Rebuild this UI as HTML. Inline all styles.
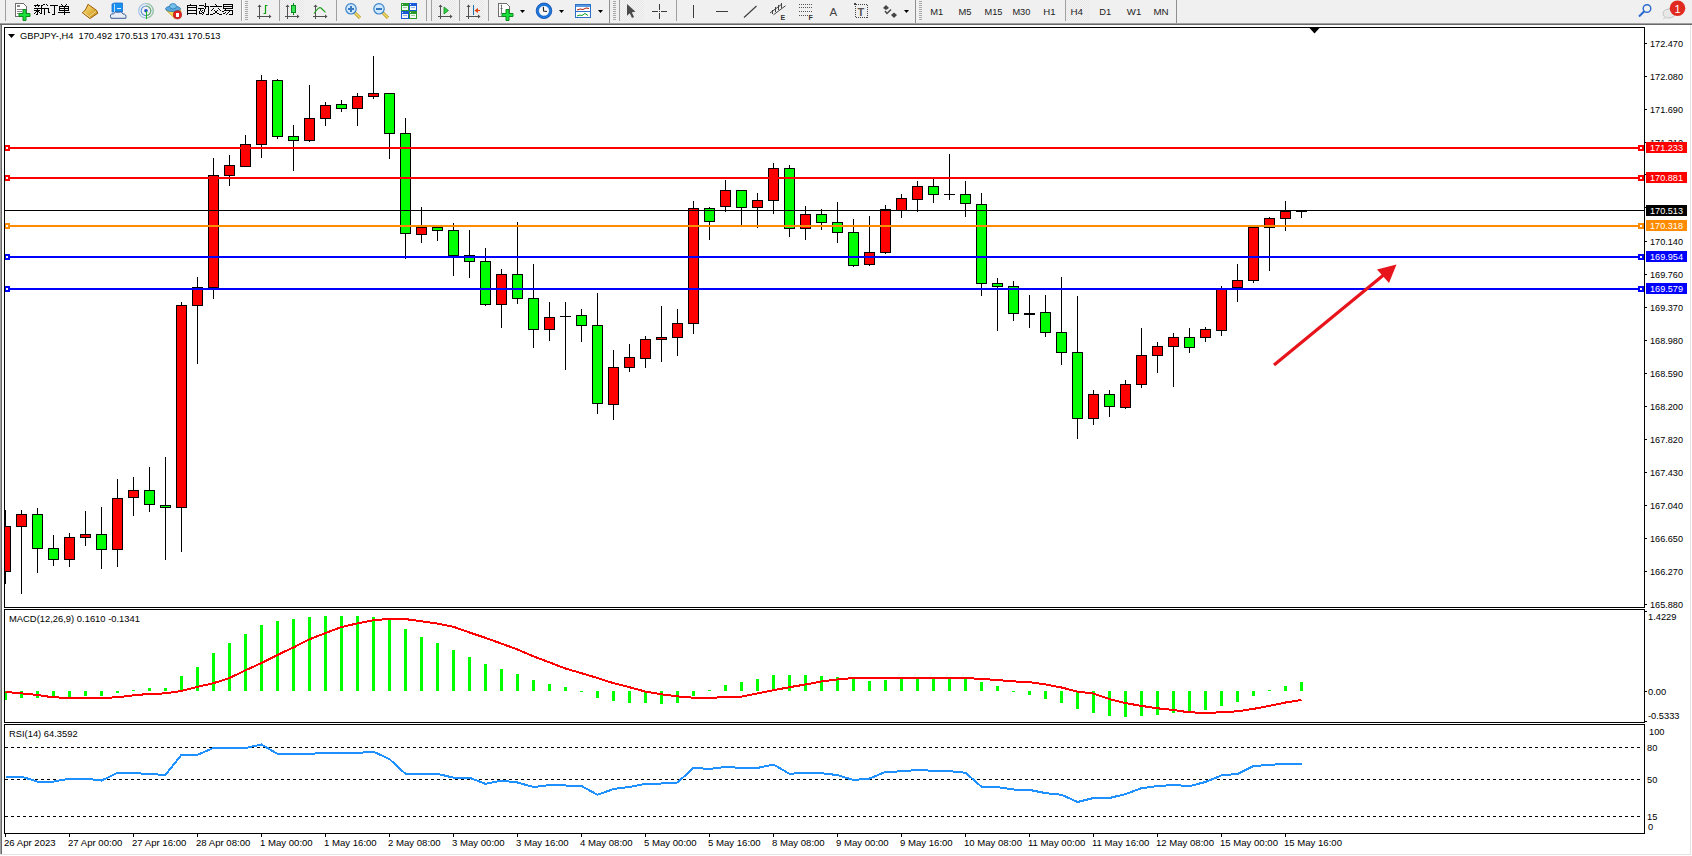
<!DOCTYPE html>
<html><head><meta charset="utf-8"><style>
html,body{margin:0;padding:0;}
body{width:1692px;height:856px;position:relative;overflow:hidden;background:#fff;font-family:"Liberation Sans",sans-serif;}
.ax{font-family:"Liberation Sans",sans-serif;font-size:9.8px;fill:#000;}
.tm{font-family:"Liberation Sans",sans-serif;font-size:9.4px;fill:#000;}
.tt{font-family:"Liberation Sans",sans-serif;font-size:9.3px;fill:#000;}
.tf{font-family:"Liberation Sans",sans-serif;font-size:9.6px;fill:#1e1e1e;}
.tb{position:absolute;font-family:"Liberation Sans",sans-serif;font-size:10px;color:#1a1a1a;white-space:nowrap;}
</style></head><body>
<svg width="1692" height="856" viewBox="0 0 1692 856" style="position:absolute;left:0;top:0" shape-rendering="crispEdges"><rect x="0" y="0" width="1692" height="23" fill="#f0f0f0"/><rect x="0" y="23" width="1692" height="1" fill="#a0a0a0"/><rect x="0" y="24" width="1692" height="1" fill="#696969"/><rect x="0" y="25" width="1" height="829" fill="#a0a0a0"/><rect x="1" y="25" width="1" height="829" fill="#696969"/><rect x="2" y="25" width="1688" height="829" fill="#ffffff"/><rect x="1690" y="25" width="1" height="830" fill="#e3e3e3"/><rect x="0" y="854" width="1691" height="1" fill="#e3e3e3"/><defs><clipPath id="cm"><rect x="5" y="28" width="1639" height="579"/></clipPath><clipPath id="cd"><rect x="5" y="610" width="1639" height="112"/></clipPath><clipPath id="cr"><rect x="5" y="725" width="1639" height="108"/></clipPath></defs><g clip-path="url(#cm)"><rect x="5" y="510" width="1" height="74" fill="#000"/><rect x="0" y="526" width="11" height="46" fill="#000"/><rect x="1" y="527" width="9" height="44" fill="#ff0000"/><rect x="21" y="510" width="1" height="84" fill="#000"/><rect x="16" y="514" width="11" height="13" fill="#000"/><rect x="17" y="515" width="9" height="11" fill="#ff0000"/><rect x="37" y="508" width="1" height="65" fill="#000"/><rect x="32" y="514" width="11" height="35" fill="#000"/><rect x="33" y="515" width="9" height="33" fill="#00ff00"/><rect x="53" y="535" width="1" height="31" fill="#000"/><rect x="48" y="548" width="11" height="12" fill="#000"/><rect x="49" y="549" width="9" height="10" fill="#00ff00"/><rect x="69" y="533" width="1" height="34" fill="#000"/><rect x="64" y="537" width="11" height="23" fill="#000"/><rect x="65" y="538" width="9" height="21" fill="#ff0000"/><rect x="85" y="511" width="1" height="35" fill="#000"/><rect x="80" y="534" width="11" height="4" fill="#000"/><rect x="81" y="535" width="9" height="2" fill="#ff0000"/><rect x="101" y="507" width="1" height="62" fill="#000"/><rect x="96" y="534" width="11" height="16" fill="#000"/><rect x="97" y="535" width="9" height="14" fill="#00ff00"/><rect x="117" y="479" width="1" height="88" fill="#000"/><rect x="112" y="498" width="11" height="52" fill="#000"/><rect x="113" y="499" width="9" height="50" fill="#ff0000"/><rect x="133" y="477" width="1" height="39" fill="#000"/><rect x="128" y="490" width="11" height="8" fill="#000"/><rect x="129" y="491" width="9" height="6" fill="#ff0000"/><rect x="149" y="467" width="1" height="45" fill="#000"/><rect x="144" y="490" width="11" height="15" fill="#000"/><rect x="145" y="491" width="9" height="13" fill="#00ff00"/><rect x="165" y="457" width="1" height="103" fill="#000"/><rect x="160" y="505" width="11" height="3" fill="#000"/><rect x="161" y="506" width="9" height="1" fill="#00ff00"/><rect x="181" y="302" width="1" height="250" fill="#000"/><rect x="176" y="305" width="11" height="203" fill="#000"/><rect x="177" y="306" width="9" height="201" fill="#ff0000"/><rect x="197" y="277" width="1" height="87" fill="#000"/><rect x="192" y="287" width="11" height="19" fill="#000"/><rect x="193" y="288" width="9" height="17" fill="#ff0000"/><rect x="213" y="158" width="1" height="141" fill="#000"/><rect x="208" y="175" width="11" height="113" fill="#000"/><rect x="209" y="176" width="9" height="111" fill="#ff0000"/><rect x="229" y="155" width="1" height="31" fill="#000"/><rect x="224" y="165" width="11" height="11" fill="#000"/><rect x="225" y="166" width="9" height="9" fill="#ff0000"/><rect x="245" y="135" width="1" height="32" fill="#000"/><rect x="240" y="144" width="11" height="23" fill="#000"/><rect x="241" y="145" width="9" height="21" fill="#ff0000"/><rect x="261" y="75" width="1" height="83" fill="#000"/><rect x="256" y="80" width="11" height="65" fill="#000"/><rect x="257" y="81" width="9" height="63" fill="#ff0000"/><rect x="277" y="79" width="1" height="60" fill="#000"/><rect x="272" y="80" width="11" height="57" fill="#000"/><rect x="273" y="81" width="9" height="55" fill="#00ff00"/><rect x="293" y="125" width="1" height="46" fill="#000"/><rect x="288" y="136" width="11" height="5" fill="#000"/><rect x="289" y="137" width="9" height="3" fill="#00ff00"/><rect x="309" y="85" width="1" height="57" fill="#000"/><rect x="304" y="118" width="11" height="23" fill="#000"/><rect x="305" y="119" width="9" height="21" fill="#ff0000"/><rect x="325" y="102" width="1" height="24" fill="#000"/><rect x="320" y="105" width="11" height="14" fill="#000"/><rect x="321" y="106" width="9" height="12" fill="#ff0000"/><rect x="341" y="100" width="1" height="12" fill="#000"/><rect x="336" y="104" width="11" height="5" fill="#000"/><rect x="337" y="105" width="9" height="3" fill="#00ff00"/><rect x="357" y="93" width="1" height="33" fill="#000"/><rect x="352" y="96" width="11" height="13" fill="#000"/><rect x="353" y="97" width="9" height="11" fill="#ff0000"/><rect x="373" y="56" width="1" height="43" fill="#000"/><rect x="368" y="93" width="11" height="4" fill="#000"/><rect x="369" y="94" width="9" height="2" fill="#ff0000"/><rect x="389" y="93" width="1" height="66" fill="#000"/><rect x="384" y="93" width="11" height="41" fill="#000"/><rect x="385" y="94" width="9" height="39" fill="#00ff00"/><rect x="405" y="118" width="1" height="141" fill="#000"/><rect x="400" y="133" width="11" height="101" fill="#000"/><rect x="401" y="134" width="9" height="99" fill="#00ff00"/><rect x="421" y="207" width="1" height="36" fill="#000"/><rect x="416" y="227" width="11" height="8" fill="#000"/><rect x="417" y="228" width="9" height="6" fill="#ff0000"/><rect x="437" y="227" width="1" height="14" fill="#000"/><rect x="432" y="227" width="11" height="4" fill="#000"/><rect x="433" y="228" width="9" height="2" fill="#00ff00"/><rect x="453" y="223" width="1" height="53" fill="#000"/><rect x="448" y="230" width="11" height="26" fill="#000"/><rect x="449" y="231" width="9" height="24" fill="#00ff00"/><rect x="469" y="230" width="1" height="48" fill="#000"/><rect x="464" y="255" width="11" height="7" fill="#000"/><rect x="465" y="256" width="9" height="5" fill="#00ff00"/><rect x="485" y="248" width="1" height="58" fill="#000"/><rect x="480" y="261" width="11" height="44" fill="#000"/><rect x="481" y="262" width="9" height="42" fill="#00ff00"/><rect x="501" y="269" width="1" height="59" fill="#000"/><rect x="496" y="274" width="11" height="31" fill="#000"/><rect x="497" y="275" width="9" height="29" fill="#ff0000"/><rect x="517" y="222" width="1" height="82" fill="#000"/><rect x="512" y="274" width="11" height="25" fill="#000"/><rect x="513" y="275" width="9" height="23" fill="#00ff00"/><rect x="533" y="264" width="1" height="84" fill="#000"/><rect x="528" y="298" width="11" height="32" fill="#000"/><rect x="529" y="299" width="9" height="30" fill="#00ff00"/><rect x="549" y="302" width="1" height="39" fill="#000"/><rect x="544" y="317" width="11" height="13" fill="#000"/><rect x="545" y="318" width="9" height="11" fill="#ff0000"/><rect x="565" y="302" width="1" height="68" fill="#000"/><rect x="560" y="316" width="11" height="1" fill="#000"/><rect x="581" y="309" width="1" height="33" fill="#000"/><rect x="576" y="315" width="11" height="11" fill="#000"/><rect x="577" y="316" width="9" height="9" fill="#00ff00"/><rect x="597" y="293" width="1" height="121" fill="#000"/><rect x="592" y="325" width="11" height="79" fill="#000"/><rect x="593" y="326" width="9" height="77" fill="#00ff00"/><rect x="613" y="350" width="1" height="70" fill="#000"/><rect x="608" y="367" width="11" height="38" fill="#000"/><rect x="609" y="368" width="9" height="36" fill="#ff0000"/><rect x="629" y="344" width="1" height="28" fill="#000"/><rect x="624" y="357" width="11" height="11" fill="#000"/><rect x="625" y="358" width="9" height="9" fill="#ff0000"/><rect x="645" y="336" width="1" height="32" fill="#000"/><rect x="640" y="339" width="11" height="20" fill="#000"/><rect x="641" y="340" width="9" height="18" fill="#ff0000"/><rect x="661" y="306" width="1" height="56" fill="#000"/><rect x="656" y="337" width="11" height="3" fill="#000"/><rect x="657" y="338" width="9" height="1" fill="#ff0000"/><rect x="677" y="309" width="1" height="47" fill="#000"/><rect x="672" y="323" width="11" height="15" fill="#000"/><rect x="673" y="324" width="9" height="13" fill="#ff0000"/><rect x="693" y="201" width="1" height="133" fill="#000"/><rect x="688" y="208" width="11" height="116" fill="#000"/><rect x="689" y="209" width="9" height="114" fill="#ff0000"/><rect x="709" y="207" width="1" height="33" fill="#000"/><rect x="704" y="208" width="11" height="14" fill="#000"/><rect x="705" y="209" width="9" height="12" fill="#00ff00"/><rect x="725" y="180" width="1" height="32" fill="#000"/><rect x="720" y="190" width="11" height="17" fill="#000"/><rect x="721" y="191" width="9" height="15" fill="#ff0000"/><rect x="741" y="190" width="1" height="35" fill="#000"/><rect x="736" y="190" width="11" height="18" fill="#000"/><rect x="737" y="191" width="9" height="16" fill="#00ff00"/><rect x="757" y="193" width="1" height="35" fill="#000"/><rect x="752" y="200" width="11" height="8" fill="#000"/><rect x="753" y="201" width="9" height="6" fill="#ff0000"/><rect x="773" y="163" width="1" height="51" fill="#000"/><rect x="768" y="168" width="11" height="33" fill="#000"/><rect x="769" y="169" width="9" height="31" fill="#ff0000"/><rect x="789" y="165" width="1" height="72" fill="#000"/><rect x="784" y="168" width="11" height="61" fill="#000"/><rect x="785" y="169" width="9" height="59" fill="#00ff00"/><rect x="805" y="206" width="1" height="34" fill="#000"/><rect x="800" y="214" width="11" height="15" fill="#000"/><rect x="801" y="215" width="9" height="13" fill="#ff0000"/><rect x="821" y="209" width="1" height="21" fill="#000"/><rect x="816" y="214" width="11" height="9" fill="#000"/><rect x="817" y="215" width="9" height="7" fill="#00ff00"/><rect x="837" y="202" width="1" height="41" fill="#000"/><rect x="832" y="222" width="11" height="11" fill="#000"/><rect x="833" y="223" width="9" height="9" fill="#00ff00"/><rect x="853" y="219" width="1" height="48" fill="#000"/><rect x="848" y="232" width="11" height="34" fill="#000"/><rect x="849" y="233" width="9" height="32" fill="#00ff00"/><rect x="869" y="216" width="1" height="50" fill="#000"/><rect x="864" y="252" width="11" height="13" fill="#000"/><rect x="865" y="253" width="9" height="11" fill="#ff0000"/><rect x="885" y="205" width="1" height="49" fill="#000"/><rect x="880" y="209" width="11" height="44" fill="#000"/><rect x="881" y="210" width="9" height="42" fill="#ff0000"/><rect x="901" y="194" width="1" height="24" fill="#000"/><rect x="896" y="198" width="11" height="13" fill="#000"/><rect x="897" y="199" width="9" height="11" fill="#ff0000"/><rect x="917" y="181" width="1" height="31" fill="#000"/><rect x="912" y="186" width="11" height="14" fill="#000"/><rect x="913" y="187" width="9" height="12" fill="#ff0000"/><rect x="933" y="179" width="1" height="24" fill="#000"/><rect x="928" y="186" width="11" height="9" fill="#000"/><rect x="929" y="187" width="9" height="7" fill="#00ff00"/><rect x="949" y="154" width="1" height="46" fill="#000"/><rect x="944" y="194" width="11" height="1" fill="#000"/><rect x="965" y="181" width="1" height="36" fill="#000"/><rect x="960" y="194" width="11" height="10" fill="#000"/><rect x="961" y="195" width="9" height="8" fill="#00ff00"/><rect x="981" y="193" width="1" height="103" fill="#000"/><rect x="976" y="204" width="11" height="80" fill="#000"/><rect x="977" y="205" width="9" height="78" fill="#00ff00"/><rect x="997" y="278" width="1" height="53" fill="#000"/><rect x="992" y="283" width="11" height="4" fill="#000"/><rect x="993" y="284" width="9" height="2" fill="#00ff00"/><rect x="1013" y="281" width="1" height="40" fill="#000"/><rect x="1008" y="286" width="11" height="28" fill="#000"/><rect x="1009" y="287" width="9" height="26" fill="#00ff00"/><rect x="1029" y="295" width="1" height="33" fill="#000"/><rect x="1024" y="313" width="11" height="2" fill="#000"/><rect x="1045" y="295" width="1" height="42" fill="#000"/><rect x="1040" y="312" width="11" height="21" fill="#000"/><rect x="1041" y="313" width="9" height="19" fill="#00ff00"/><rect x="1061" y="277" width="1" height="88" fill="#000"/><rect x="1056" y="332" width="11" height="21" fill="#000"/><rect x="1057" y="333" width="9" height="19" fill="#00ff00"/><rect x="1077" y="296" width="1" height="143" fill="#000"/><rect x="1072" y="352" width="11" height="67" fill="#000"/><rect x="1073" y="353" width="9" height="65" fill="#00ff00"/><rect x="1093" y="390" width="1" height="35" fill="#000"/><rect x="1088" y="394" width="11" height="25" fill="#000"/><rect x="1089" y="395" width="9" height="23" fill="#ff0000"/><rect x="1109" y="390" width="1" height="27" fill="#000"/><rect x="1104" y="394" width="11" height="13" fill="#000"/><rect x="1105" y="395" width="9" height="11" fill="#00ff00"/><rect x="1125" y="380" width="1" height="29" fill="#000"/><rect x="1120" y="384" width="11" height="24" fill="#000"/><rect x="1121" y="385" width="9" height="22" fill="#ff0000"/><rect x="1141" y="328" width="1" height="60" fill="#000"/><rect x="1136" y="355" width="11" height="30" fill="#000"/><rect x="1137" y="356" width="9" height="28" fill="#ff0000"/><rect x="1157" y="342" width="1" height="31" fill="#000"/><rect x="1152" y="346" width="11" height="10" fill="#000"/><rect x="1153" y="347" width="9" height="8" fill="#ff0000"/><rect x="1173" y="333" width="1" height="54" fill="#000"/><rect x="1168" y="337" width="11" height="10" fill="#000"/><rect x="1169" y="338" width="9" height="8" fill="#ff0000"/><rect x="1189" y="328" width="1" height="25" fill="#000"/><rect x="1184" y="337" width="11" height="11" fill="#000"/><rect x="1185" y="338" width="9" height="9" fill="#00ff00"/><rect x="1205" y="327" width="1" height="15" fill="#000"/><rect x="1200" y="329" width="11" height="9" fill="#000"/><rect x="1201" y="330" width="9" height="7" fill="#ff0000"/><rect x="1221" y="286" width="1" height="50" fill="#000"/><rect x="1216" y="289" width="11" height="42" fill="#000"/><rect x="1217" y="290" width="9" height="40" fill="#ff0000"/><rect x="1237" y="264" width="1" height="38" fill="#000"/><rect x="1232" y="280" width="11" height="8" fill="#000"/><rect x="1233" y="281" width="9" height="6" fill="#ff0000"/><rect x="1253" y="227" width="1" height="56" fill="#000"/><rect x="1248" y="227" width="11" height="54" fill="#000"/><rect x="1249" y="228" width="9" height="52" fill="#ff0000"/><rect x="1269" y="217" width="1" height="54" fill="#000"/><rect x="1264" y="218" width="11" height="10" fill="#000"/><rect x="1265" y="219" width="9" height="8" fill="#ff0000"/><rect x="1285" y="201" width="1" height="30" fill="#000"/><rect x="1280" y="211" width="11" height="8" fill="#000"/><rect x="1281" y="212" width="9" height="6" fill="#ff0000"/><rect x="1301" y="211" width="1" height="7" fill="#000"/><rect x="1296" y="211" width="11" height="1" fill="#000"/><rect x="5" y="210" width="1639" height="1" fill="#000"/><rect x="5" y="147" width="1639" height="2" fill="#ff0000"/><rect x="5" y="177" width="1639" height="2" fill="#ff0000"/><rect x="5" y="225" width="1639" height="2" fill="#ff8c00"/><rect x="5" y="256" width="1639" height="2" fill="#0000ff"/><rect x="5" y="288" width="1639" height="2" fill="#0000ff"/><rect x="4" y="145" width="6" height="6" fill="#ff0000"/><rect x="6" y="147" width="2" height="2" fill="#fff"/><rect x="1638" y="145" width="6" height="6" fill="#ff0000"/><rect x="1640" y="147" width="2" height="2" fill="#fff"/><rect x="4" y="175" width="6" height="6" fill="#ff0000"/><rect x="6" y="177" width="2" height="2" fill="#fff"/><rect x="1638" y="175" width="6" height="6" fill="#ff0000"/><rect x="1640" y="177" width="2" height="2" fill="#fff"/><rect x="4" y="223" width="6" height="6" fill="#ff8c00"/><rect x="6" y="225" width="2" height="2" fill="#fff"/><rect x="1638" y="223" width="6" height="6" fill="#ff8c00"/><rect x="1640" y="225" width="2" height="2" fill="#fff"/><rect x="4" y="254" width="6" height="6" fill="#0000ff"/><rect x="6" y="256" width="2" height="2" fill="#fff"/><rect x="1638" y="254" width="6" height="6" fill="#0000ff"/><rect x="1640" y="256" width="2" height="2" fill="#fff"/><rect x="4" y="286" width="6" height="6" fill="#0000ff"/><rect x="6" y="288" width="2" height="2" fill="#fff"/><rect x="1638" y="286" width="6" height="6" fill="#0000ff"/><rect x="1640" y="288" width="2" height="2" fill="#fff"/></g><g fill="#e8141c" stroke="none"><line x1="1274" y1="365" x2="1386" y2="273" stroke="#e8141c" stroke-width="3.2" stroke-linecap="butt" shape-rendering="geometricPrecision"/><polygon points="1396.5,264.5 1377,269.5 1389,283" shape-rendering="geometricPrecision"/></g><polygon points="1309.5,28 1319.5,28 1314.5,33.5" fill="#000" shape-rendering="geometricPrecision"/><rect x="4" y="27" width="1641" height="1" fill="#000"/><rect x="4" y="607" width="1641" height="1" fill="#000"/><rect x="4" y="27" width="1" height="581" fill="#000"/><rect x="1644" y="27" width="1" height="581" fill="#000"/><rect x="4" y="609" width="1641" height="1" fill="#000"/><rect x="4" y="722" width="1641" height="1" fill="#000"/><rect x="4" y="609" width="1" height="114" fill="#000"/><rect x="1644" y="609" width="1" height="114" fill="#000"/><rect x="4" y="724" width="1641" height="1" fill="#000"/><rect x="4" y="833" width="1641" height="1" fill="#000"/><rect x="4" y="724" width="1" height="110" fill="#000"/><rect x="1644" y="724" width="1" height="110" fill="#000"/><rect x="1645" y="43" width="2" height="1" fill="#000"/><rect x="1645" y="76" width="2" height="1" fill="#000"/><rect x="1645" y="109" width="2" height="1" fill="#000"/><rect x="1645" y="142" width="2" height="1" fill="#000"/><rect x="1645" y="174" width="2" height="1" fill="#000"/><rect x="1645" y="207" width="2" height="1" fill="#000"/><rect x="1645" y="241" width="2" height="1" fill="#000"/><rect x="1645" y="274" width="2" height="1" fill="#000"/><rect x="1645" y="307" width="2" height="1" fill="#000"/><rect x="1645" y="340" width="2" height="1" fill="#000"/><rect x="1645" y="373" width="2" height="1" fill="#000"/><rect x="1645" y="406" width="2" height="1" fill="#000"/><rect x="1645" y="439" width="2" height="1" fill="#000"/><rect x="1645" y="472" width="2" height="1" fill="#000"/><rect x="1645" y="505" width="2" height="1" fill="#000"/><rect x="1645" y="538" width="2" height="1" fill="#000"/><rect x="1645" y="571" width="2" height="1" fill="#000"/><rect x="1645" y="604" width="2" height="1" fill="#000"/><g clip-path="url(#cd)"><rect x="4" y="691" width="3" height="9" fill="#00ff00"/><rect x="20" y="691" width="3" height="7" fill="#00ff00"/><rect x="36" y="691" width="3" height="7" fill="#00ff00"/><rect x="52" y="691" width="3" height="6" fill="#00ff00"/><rect x="68" y="691" width="3" height="6" fill="#00ff00"/><rect x="84" y="691" width="3" height="5" fill="#00ff00"/><rect x="100" y="691" width="3" height="5" fill="#00ff00"/><rect x="116" y="691" width="3" height="2" fill="#00ff00"/><rect x="132" y="690" width="3" height="1" fill="#00ff00"/><rect x="148" y="688" width="3" height="3" fill="#00ff00"/><rect x="164" y="688" width="3" height="3" fill="#00ff00"/><rect x="180" y="676" width="3" height="15" fill="#00ff00"/><rect x="196" y="667" width="3" height="24" fill="#00ff00"/><rect x="212" y="653" width="3" height="38" fill="#00ff00"/><rect x="228" y="643" width="3" height="48" fill="#00ff00"/><rect x="244" y="634" width="3" height="57" fill="#00ff00"/><rect x="260" y="625" width="3" height="66" fill="#00ff00"/><rect x="276" y="621" width="3" height="70" fill="#00ff00"/><rect x="292" y="619" width="3" height="72" fill="#00ff00"/><rect x="308" y="617" width="3" height="74" fill="#00ff00"/><rect x="324" y="616" width="3" height="75" fill="#00ff00"/><rect x="340" y="616" width="3" height="75" fill="#00ff00"/><rect x="356" y="616" width="3" height="75" fill="#00ff00"/><rect x="372" y="617" width="3" height="74" fill="#00ff00"/><rect x="388" y="619" width="3" height="72" fill="#00ff00"/><rect x="404" y="629" width="3" height="62" fill="#00ff00"/><rect x="420" y="637" width="3" height="54" fill="#00ff00"/><rect x="436" y="643" width="3" height="48" fill="#00ff00"/><rect x="452" y="650" width="3" height="41" fill="#00ff00"/><rect x="468" y="657" width="3" height="34" fill="#00ff00"/><rect x="484" y="664" width="3" height="27" fill="#00ff00"/><rect x="500" y="669" width="3" height="22" fill="#00ff00"/><rect x="516" y="674" width="3" height="17" fill="#00ff00"/><rect x="532" y="680" width="3" height="11" fill="#00ff00"/><rect x="548" y="684" width="3" height="7" fill="#00ff00"/><rect x="564" y="687" width="3" height="4" fill="#00ff00"/><rect x="580" y="691" width="3" height="1" fill="#00ff00"/><rect x="596" y="691" width="3" height="7" fill="#00ff00"/><rect x="612" y="691" width="3" height="10" fill="#00ff00"/><rect x="628" y="691" width="3" height="12" fill="#00ff00"/><rect x="644" y="691" width="3" height="12" fill="#00ff00"/><rect x="660" y="691" width="3" height="13" fill="#00ff00"/><rect x="676" y="691" width="3" height="12" fill="#00ff00"/><rect x="692" y="691" width="3" height="5" fill="#00ff00"/><rect x="708" y="690" width="3" height="1" fill="#00ff00"/><rect x="724" y="685" width="3" height="6" fill="#00ff00"/><rect x="740" y="682" width="3" height="9" fill="#00ff00"/><rect x="756" y="679" width="3" height="12" fill="#00ff00"/><rect x="772" y="675" width="3" height="16" fill="#00ff00"/><rect x="788" y="675" width="3" height="16" fill="#00ff00"/><rect x="804" y="675" width="3" height="16" fill="#00ff00"/><rect x="820" y="676" width="3" height="15" fill="#00ff00"/><rect x="836" y="677" width="3" height="14" fill="#00ff00"/><rect x="852" y="678" width="3" height="13" fill="#00ff00"/><rect x="868" y="681" width="3" height="10" fill="#00ff00"/><rect x="884" y="680" width="3" height="11" fill="#00ff00"/><rect x="900" y="679" width="3" height="12" fill="#00ff00"/><rect x="916" y="679" width="3" height="12" fill="#00ff00"/><rect x="932" y="679" width="3" height="12" fill="#00ff00"/><rect x="948" y="679" width="3" height="12" fill="#00ff00"/><rect x="964" y="677" width="3" height="14" fill="#00ff00"/><rect x="980" y="682" width="3" height="9" fill="#00ff00"/><rect x="996" y="686" width="3" height="5" fill="#00ff00"/><rect x="1012" y="691" width="3" height="1" fill="#00ff00"/><rect x="1028" y="691" width="3" height="4" fill="#00ff00"/><rect x="1044" y="691" width="3" height="8" fill="#00ff00"/><rect x="1060" y="691" width="3" height="12" fill="#00ff00"/><rect x="1076" y="691" width="3" height="18" fill="#00ff00"/><rect x="1092" y="691" width="3" height="22" fill="#00ff00"/><rect x="1108" y="691" width="3" height="25" fill="#00ff00"/><rect x="1124" y="691" width="3" height="26" fill="#00ff00"/><rect x="1140" y="691" width="3" height="25" fill="#00ff00"/><rect x="1156" y="691" width="3" height="24" fill="#00ff00"/><rect x="1172" y="691" width="3" height="22" fill="#00ff00"/><rect x="1188" y="691" width="3" height="21" fill="#00ff00"/><rect x="1204" y="691" width="3" height="19" fill="#00ff00"/><rect x="1220" y="691" width="3" height="15" fill="#00ff00"/><rect x="1236" y="691" width="3" height="11" fill="#00ff00"/><rect x="1252" y="691" width="3" height="5" fill="#00ff00"/><rect x="1268" y="690" width="3" height="1" fill="#00ff00"/><rect x="1284" y="686" width="3" height="5" fill="#00ff00"/><rect x="1300" y="682" width="3" height="9" fill="#00ff00"/><polyline points="5.5,691.9 21.5,693.4 37.5,695.0 53.5,697.4 69.5,697.7 85.5,697.7 101.5,697.7 117.5,697.4 133.5,695.3 149.5,693.9 165.5,693.4 181.5,690.9 197.5,686.8 213.5,683.2 229.5,678.0 245.5,670.3 261.5,663.0 277.5,654.9 293.5,647.4 309.5,639.3 325.5,633.1 341.5,627.0 357.5,623.4 373.5,620.2 389.5,618.9 405.5,619.1 421.5,621.3 437.5,623.6 453.5,626.8 469.5,632.5 485.5,637.9 501.5,643.6 517.5,649.5 533.5,656.3 549.5,662.4 565.5,668.5 581.5,673.2 597.5,678.0 613.5,683.2 629.5,687.2 645.5,691.6 661.5,694.3 677.5,696.4 693.5,697.7 709.5,697.7 725.5,697.3 741.5,696.6 757.5,693.4 773.5,690.2 789.5,687.2 805.5,684.5 821.5,681.4 837.5,679.4 853.5,678.0 869.5,678.0 885.5,678.0 901.5,678.0 917.5,678.0 933.5,678.0 949.5,678.0 965.5,678.0 981.5,679.0 997.5,680.0 1013.5,681.4 1029.5,682.1 1045.5,684.4 1061.5,687.5 1077.5,691.6 1093.5,693.6 1109.5,699.1 1125.5,703.1 1141.5,705.9 1157.5,708.3 1173.5,710.0 1189.5,712.4 1205.5,712.7 1221.5,712.4 1237.5,711.3 1253.5,708.9 1269.5,705.9 1285.5,702.5 1301.5,700.0" fill="none" stroke="#ff0000" stroke-width="2" shape-rendering="crispEdges"/></g><rect x="1645" y="611" width="2" height="1" fill="#000"/><rect x="1645" y="691" width="2" height="1" fill="#000"/><rect x="1645" y="721" width="2" height="1" fill="#000"/><g clip-path="url(#cr)"><line x1="5" y1="747.5" x2="1642" y2="747.5" stroke="#000" stroke-width="1" stroke-dasharray="3,3" shape-rendering="crispEdges"/><line x1="5" y1="779.5" x2="1642" y2="779.5" stroke="#000" stroke-width="1" stroke-dasharray="3,3" shape-rendering="crispEdges"/><line x1="5" y1="816.5" x2="1642" y2="816.5" stroke="#000" stroke-width="1" stroke-dasharray="3,3" shape-rendering="crispEdges"/><polyline points="5.5,776.7 21.5,776.7 37.5,781.6 53.5,781.6 69.5,778.6 85.5,778.6 101.5,780.6 117.5,772.8 133.5,772.8 149.5,774.3 165.5,774.7 181.5,754.8 197.5,754.8 213.5,748.0 229.5,748.0 245.5,748.0 261.5,744.5 277.5,753.9 293.5,753.9 309.5,753.9 325.5,752.8 341.5,752.9 357.5,752.9 373.5,751.7 389.5,759.1 405.5,773.8 421.5,773.8 437.5,773.8 453.5,777.7 469.5,777.7 485.5,783.9 501.5,780.6 517.5,782.5 533.5,787.0 549.5,785.1 565.5,785.5 581.5,786.0 597.5,794.8 613.5,789.0 629.5,787.0 645.5,783.8 661.5,783.5 677.5,782.5 693.5,767.9 709.5,768.9 725.5,766.9 741.5,767.9 757.5,767.9 773.5,764.6 789.5,773.8 805.5,772.8 821.5,773.2 837.5,775.1 853.5,780.0 869.5,778.6 885.5,771.8 901.5,771.4 917.5,769.9 933.5,770.8 949.5,771.2 965.5,772.8 981.5,786.7 997.5,787.1 1013.5,789.5 1029.5,789.9 1045.5,793.1 1061.5,794.8 1077.5,802.0 1093.5,798.0 1109.5,798.0 1125.5,794.1 1141.5,788.2 1157.5,786.1 1173.5,785.0 1189.5,786.1 1205.5,782.0 1221.5,775.4 1237.5,773.9 1253.5,766.1 1269.5,764.8 1285.5,763.9 1301.5,763.9" fill="none" stroke="#1e90ff" stroke-width="2" stroke-linejoin="round"/></g><rect x="5" y="834" width="1" height="3" fill="#000"/><rect x="69" y="834" width="1" height="3" fill="#000"/><rect x="133" y="834" width="1" height="3" fill="#000"/><rect x="197" y="834" width="1" height="3" fill="#000"/><rect x="261" y="834" width="1" height="3" fill="#000"/><rect x="325" y="834" width="1" height="3" fill="#000"/><rect x="389" y="834" width="1" height="3" fill="#000"/><rect x="453" y="834" width="1" height="3" fill="#000"/><rect x="517" y="834" width="1" height="3" fill="#000"/><rect x="581" y="834" width="1" height="3" fill="#000"/><rect x="645" y="834" width="1" height="3" fill="#000"/><rect x="709" y="834" width="1" height="3" fill="#000"/><rect x="773" y="834" width="1" height="3" fill="#000"/><rect x="837" y="834" width="1" height="3" fill="#000"/><rect x="901" y="834" width="1" height="3" fill="#000"/><rect x="965" y="834" width="1" height="3" fill="#000"/><rect x="1029" y="834" width="1" height="3" fill="#000"/><rect x="1093" y="834" width="1" height="3" fill="#000"/><rect x="1157" y="834" width="1" height="3" fill="#000"/><rect x="1221" y="834" width="1" height="3" fill="#000"/><rect x="1285" y="834" width="1" height="3" fill="#000"/><text x="1650" y="47" class="ax" textLength="33.00" lengthAdjust="spacingAndGlyphs" >172.470</text><text x="1650" y="80" class="ax" textLength="33.00" lengthAdjust="spacingAndGlyphs" >172.080</text><text x="1650" y="113" class="ax" textLength="33.00" lengthAdjust="spacingAndGlyphs" >171.690</text><text x="1650" y="146" class="ax" textLength="33.00" lengthAdjust="spacingAndGlyphs" >171.310</text><text x="1650" y="178" class="ax" textLength="33.00" lengthAdjust="spacingAndGlyphs" >170.930</text><text x="1650" y="211" class="ax" textLength="33.00" lengthAdjust="spacingAndGlyphs" >170.540</text><text x="1650" y="245" class="ax" textLength="33.00" lengthAdjust="spacingAndGlyphs" >170.140</text><text x="1650" y="278" class="ax" textLength="33.00" lengthAdjust="spacingAndGlyphs" >169.760</text><text x="1650" y="311" class="ax" textLength="33.00" lengthAdjust="spacingAndGlyphs" >169.370</text><text x="1650" y="344" class="ax" textLength="33.00" lengthAdjust="spacingAndGlyphs" >168.980</text><text x="1650" y="377" class="ax" textLength="33.00" lengthAdjust="spacingAndGlyphs" >168.590</text><text x="1650" y="410" class="ax" textLength="33.00" lengthAdjust="spacingAndGlyphs" >168.200</text><text x="1650" y="443" class="ax" textLength="33.00" lengthAdjust="spacingAndGlyphs" >167.820</text><text x="1650" y="476" class="ax" textLength="33.00" lengthAdjust="spacingAndGlyphs" >167.430</text><text x="1650" y="509" class="ax" textLength="33.00" lengthAdjust="spacingAndGlyphs" >167.040</text><text x="1650" y="542" class="ax" textLength="33.00" lengthAdjust="spacingAndGlyphs" >166.650</text><text x="1650" y="575" class="ax" textLength="33.00" lengthAdjust="spacingAndGlyphs" >166.270</text><text x="1650" y="608" class="ax" textLength="33.00" lengthAdjust="spacingAndGlyphs" >165.880</text><rect x="1646" y="142" width="41" height="11" fill="#ff0000"/><text x="1650" y="151" class="ax" textLength="33.00" lengthAdjust="spacingAndGlyphs" style="fill:#fff">171.233</text><rect x="1646" y="172" width="41" height="11" fill="#ff0000"/><text x="1650" y="181" class="ax" textLength="33.00" lengthAdjust="spacingAndGlyphs" style="fill:#fff">170.881</text><rect x="1646" y="205" width="41" height="11" fill="#000000"/><text x="1650" y="214" class="ax" textLength="33.00" lengthAdjust="spacingAndGlyphs" style="fill:#fff">170.513</text><rect x="1646" y="220" width="41" height="11" fill="#ff8c00"/><text x="1650" y="229" class="ax" textLength="33.00" lengthAdjust="spacingAndGlyphs" style="fill:#fff">170.318</text><rect x="1646" y="251" width="41" height="11" fill="#0000ff"/><text x="1650" y="260" class="ax" textLength="33.00" lengthAdjust="spacingAndGlyphs" style="fill:#fff">169.954</text><rect x="1646" y="283" width="41" height="11" fill="#0000ff"/><text x="1650" y="292" class="ax" textLength="33.00" lengthAdjust="spacingAndGlyphs" style="fill:#fff">169.579</text><text x="1648" y="620" class="ax" textLength="28.44" lengthAdjust="spacingAndGlyphs" >1.4229</text><text x="1648" y="695" class="ax" textLength="18.10" lengthAdjust="spacingAndGlyphs" >0.00</text><text x="1648" y="719" class="ax" textLength="31.54" lengthAdjust="spacingAndGlyphs" >-0.5333</text><text x="1649" y="735" class="ax" textLength="15.52" lengthAdjust="spacingAndGlyphs" >100</text><text x="1647" y="751" class="ax" textLength="10.34" lengthAdjust="spacingAndGlyphs" >80</text><text x="1647" y="783" class="ax" textLength="10.34" lengthAdjust="spacingAndGlyphs" >50</text><text x="1647" y="820" class="ax" textLength="10.34" lengthAdjust="spacingAndGlyphs" >15</text><text x="1648" y="830" class="ax" textLength="5.17" lengthAdjust="spacingAndGlyphs" >0</text><text x="4" y="846" class="ax" textLength="51.64" lengthAdjust="spacingAndGlyphs" >26 Apr 2023</text><text x="68" y="846" class="ax" textLength="54.30" lengthAdjust="spacingAndGlyphs" >27 Apr 00:00</text><text x="132" y="846" class="ax" textLength="54.30" lengthAdjust="spacingAndGlyphs" >27 Apr 16:00</text><text x="196" y="846" class="ax" textLength="54.30" lengthAdjust="spacingAndGlyphs" >28 Apr 08:00</text><text x="260" y="846" class="ax" textLength="52.69" lengthAdjust="spacingAndGlyphs" >1 May 00:00</text><text x="324" y="846" class="ax" textLength="52.69" lengthAdjust="spacingAndGlyphs" >1 May 16:00</text><text x="388" y="846" class="ax" textLength="52.69" lengthAdjust="spacingAndGlyphs" >2 May 08:00</text><text x="452" y="846" class="ax" textLength="52.69" lengthAdjust="spacingAndGlyphs" >3 May 00:00</text><text x="516" y="846" class="ax" textLength="52.69" lengthAdjust="spacingAndGlyphs" >3 May 16:00</text><text x="580" y="846" class="ax" textLength="52.69" lengthAdjust="spacingAndGlyphs" >4 May 08:00</text><text x="644" y="846" class="ax" textLength="52.69" lengthAdjust="spacingAndGlyphs" >5 May 00:00</text><text x="708" y="846" class="ax" textLength="52.69" lengthAdjust="spacingAndGlyphs" >5 May 16:00</text><text x="772" y="846" class="ax" textLength="52.69" lengthAdjust="spacingAndGlyphs" >8 May 08:00</text><text x="836" y="846" class="ax" textLength="52.69" lengthAdjust="spacingAndGlyphs" >9 May 00:00</text><text x="900" y="846" class="ax" textLength="52.69" lengthAdjust="spacingAndGlyphs" >9 May 16:00</text><text x="964" y="846" class="ax" textLength="58.01" lengthAdjust="spacingAndGlyphs" >10 May 08:00</text><text x="1028" y="846" class="ax" textLength="57.30" lengthAdjust="spacingAndGlyphs" >11 May 00:00</text><text x="1092" y="846" class="ax" textLength="57.30" lengthAdjust="spacingAndGlyphs" >11 May 16:00</text><text x="1156" y="846" class="ax" textLength="58.01" lengthAdjust="spacingAndGlyphs" >12 May 08:00</text><text x="1220" y="846" class="ax" textLength="58.01" lengthAdjust="spacingAndGlyphs" >15 May 00:00</text><text x="1284" y="846" class="ax" textLength="58.01" lengthAdjust="spacingAndGlyphs" >15 May 16:00</text><polygon points="8,34 15,34 11.5,38" fill="#000" shape-rendering="geometricPrecision"/><text x="20" y="39" class="ax" textLength="200.50" lengthAdjust="spacingAndGlyphs" >GBPJPY-,H4&#160;&#160;170.492 170.513 170.431 170.513</text><text x="9" y="622" class="ax" textLength="131.00" lengthAdjust="spacingAndGlyphs" >MACD(12,26,9) 0.1610 -0.1341</text><text x="9" y="737" class="ax" textLength="68.60" lengthAdjust="spacingAndGlyphs" >RSI(14) 64.3592</text></svg>
<svg width="1692" height="23" viewBox="0 0 1692 23" style="position:absolute;left:0;top:0" shape-rendering="crispEdges"><defs><pattern id="chk" width="2" height="2" patternUnits="userSpaceOnUse"><rect width="2" height="2" fill="#f4f4f4"/><rect width="1" height="1" fill="#e6e6e6"/><rect x="1" y="1" width="1" height="1" fill="#e6e6e6"/></pattern><linearGradient id="gold" x1="0" y1="0" x2="1" y2="1"><stop offset="0" stop-color="#ffe680"/><stop offset="1" stop-color="#c88a10"/></linearGradient><linearGradient id="blu" x1="0" y1="0" x2="0" y2="1"><stop offset="0" stop-color="#7cc4ff"/><stop offset="1" stop-color="#1f6fd8"/></linearGradient><radialGradient id="clk" cx="0.4" cy="0.35" r="0.7"><stop offset="0.55" stop-color="#ffffff"/><stop offset="0.75" stop-color="#3a8de0"/><stop offset="1" stop-color="#0b4aa8"/></radialGradient></defs><rect x="5" y="0" width="1" height="21" fill="#a0a0a0"/><path d="M15.5,3.5 h8 l3,3 v10 h-11 z" fill="#fff" stroke="#6e6e6e" stroke-width="1"/><rect x="17" y="5" width="3" height="2" fill="#888"/><rect x="17" y="9" width="6" height="1" fill="#888"/><rect x="17" y="11" width="5" height="1" fill="#888"/><rect x="17" y="13" width="4" height="1" fill="#888"/><path d="M23,9.5 h3 v4 h4 v3 h-4 v4 h-3 v-4 h-4 v-3 h4 z" fill="#19e03a" stroke="#0a8a1a" stroke-width="1" shape-rendering="geometricPrecision"/><rect x="37" y="4" width="1" height="1" fill="#000"/><rect x="34" y="5" width="6" height="1" fill="#000"/><rect x="35" y="6" width="1" height="1" fill="#000"/><rect x="38" y="6" width="1" height="1" fill="#000"/><rect x="34" y="8" width="7" height="1" fill="#000"/><rect x="34" y="10" width="6" height="1" fill="#000"/><rect x="37" y="8" width="1" height="7" fill="#000"/><rect x="36" y="11" width="1" height="1" fill="#000"/><rect x="35" y="12" width="1" height="1" fill="#000"/><rect x="34" y="13" width="1" height="1" fill="#000"/><rect x="38" y="11" width="1" height="1" fill="#000"/><rect x="39" y="12" width="1" height="1" fill="#000"/><rect x="36" y="14" width="1" height="1" fill="#000"/><rect x="43" y="4" width="2" height="1" fill="#000"/><rect x="41" y="5" width="2" height="1" fill="#000"/><rect x="41" y="5" width="1" height="9" fill="#000"/><rect x="40" y="13" width="1" height="1" fill="#000"/><rect x="41" y="8" width="5" height="1" fill="#000"/><rect x="44" y="8" width="1" height="7" fill="#000"/><rect x="46" y="4" width="1" height="1" fill="#000"/><rect x="47" y="5" width="1" height="1" fill="#000"/><rect x="46" y="8" width="2" height="1" fill="#000"/><rect x="48" y="8" width="1" height="5" fill="#000"/><rect x="49" y="12" width="1" height="1" fill="#000"/><rect x="50" y="5" width="8" height="1" fill="#000"/><rect x="54" y="5" width="1" height="10" fill="#000"/><rect x="52" y="14" width="2" height="1" fill="#000"/><rect x="61" y="4" width="1" height="1" fill="#000"/><rect x="62" y="5" width="1" height="1" fill="#000"/><rect x="66" y="4" width="1" height="1" fill="#000"/><rect x="65" y="5" width="1" height="1" fill="#000"/><rect x="59" y="6" width="10" height="1" fill="#000"/><rect x="59" y="8" width="10" height="1" fill="#000"/><rect x="59" y="10" width="10" height="1" fill="#000"/><rect x="59" y="6" width="1" height="5" fill="#000"/><rect x="68" y="6" width="1" height="5" fill="#000"/><rect x="64" y="6" width="1" height="9" fill="#000"/><rect x="58" y="12" width="12" height="1" fill="#000"/><path d="M88,4.3 L96.5,10.3 L97.8,13.2 L90,18.6 L82.2,12.6 L84.5,11 Q86.5,8.5 88,4.3 Z" fill="url(#gold)" stroke="#9a5e08" stroke-width="1" shape-rendering="geometricPrecision"/><path d="M83.5,12.3 L90.5,17.6 M95.8,11.5 L89.8,16" fill="none" stroke="#f0dca0" stroke-width="0.9" shape-rendering="geometricPrecision"/><path d="M112,4 L114.5,3 H122.5 V12 H112 Z" fill="#1a90f0" stroke="#1a70d0" stroke-width="0.8" shape-rendering="geometricPrecision"/><path d="M114.5,4 V12" stroke="#d8f0ff" stroke-width="0.8" shape-rendering="geometricPrecision"/><rect x="117" y="7.5" width="4" height="1" fill="#e0f0ff"/><path d="M111,18.3 Q109,13.5 113.5,13.8 Q115,11 118.5,12.3 Q121.5,10.5 123,14 Q126.8,13.8 125.8,18.3 Z" fill="#e8ecf4" stroke="#3a5a98" stroke-width="1" shape-rendering="geometricPrecision"/><circle cx="146" cy="10.8" r="7.3" fill="none" stroke="#9cc0e8" stroke-width="1.1" shape-rendering="geometricPrecision"/><path d="M146,3.5 A7.3,7.3 0 0 1 146,18.1" fill="none" stroke="#9cc89c" stroke-width="1.1" shape-rendering="geometricPrecision"/><circle cx="146" cy="10.8" r="4.8" fill="none" stroke="#5a90d8" stroke-width="1.1" shape-rendering="geometricPrecision"/><path d="M146,6 A4.8,4.8 0 0 1 146,15.6" fill="none" stroke="#70b070" stroke-width="1.1" shape-rendering="geometricPrecision"/><circle cx="146" cy="10.8" r="1.8" fill="#1a50c8" shape-rendering="geometricPrecision"/><rect x="146" y="11" width="1.3" height="8" fill="#20b020"/><path d="M166,10 L175,18.5 L181,12 L180,9 Z" fill="#f5d850" stroke="#c8a020" stroke-width="0.8" shape-rendering="geometricPrecision"/><ellipse cx="173" cy="8.8" rx="7.5" ry="2.8" fill="#5aa8dc" stroke="#2a78b8" stroke-width="0.8" shape-rendering="geometricPrecision"/><ellipse cx="173" cy="6.3" rx="3.5" ry="2.7" fill="#78c0ec" stroke="#2a78b8" stroke-width="0.8" shape-rendering="geometricPrecision"/><circle cx="177.5" cy="14.8" r="4.1" fill="#e02020" stroke="#a01010" stroke-width="0.6" shape-rendering="geometricPrecision"/><rect x="176" y="13" width="3" height="3.5" fill="#fff"/><rect x="190" y="4" width="1" height="1" fill="#000"/><rect x="187" y="5" width="1" height="10" fill="#000"/><rect x="196" y="5" width="1" height="10" fill="#000"/><rect x="187" y="5" width="10" height="1" fill="#000"/><rect x="187" y="7" width="10" height="1" fill="#000"/><rect x="187" y="10" width="10" height="1" fill="#000"/><rect x="187" y="13" width="10" height="1" fill="#000"/><rect x="199" y="5" width="5" height="1" fill="#000"/><rect x="198" y="8" width="6" height="1" fill="#000"/><rect x="200" y="9" width="1" height="2" fill="#000"/><rect x="199" y="11" width="1" height="2" fill="#000"/><rect x="199" y="13" width="3" height="1" fill="#000"/><rect x="202" y="10" width="1" height="1" fill="#000"/><rect x="201" y="11" width="1" height="1" fill="#000"/><rect x="202" y="12" width="1" height="1" fill="#000"/><rect x="203" y="13" width="1" height="1" fill="#000"/><rect x="204" y="6" width="5" height="1" fill="#000"/><rect x="208" y="6" width="1" height="9" fill="#000"/><rect x="206" y="14" width="2" height="1" fill="#000"/><rect x="205" y="3" width="1" height="6" fill="#000"/><rect x="204" y="9" width="1" height="3" fill="#000"/><rect x="203" y="12" width="1" height="2" fill="#000"/><rect x="202" y="14" width="1" height="1" fill="#000"/><rect x="215" y="4" width="1" height="1" fill="#000"/><rect x="216" y="5" width="1" height="1" fill="#000"/><rect x="210" y="6" width="12" height="1" fill="#000"/><rect x="213" y="8" width="1" height="1" fill="#000"/><rect x="212" y="9" width="1" height="1" fill="#000"/><rect x="211" y="10" width="1" height="1" fill="#000"/><rect x="218" y="8" width="1" height="1" fill="#000"/><rect x="219" y="9" width="1" height="1" fill="#000"/><rect x="220" y="10" width="1" height="1" fill="#000"/><rect x="217" y="10" width="1" height="1" fill="#000"/><rect x="216" y="11" width="1" height="1" fill="#000"/><rect x="215" y="12" width="1" height="1" fill="#000"/><rect x="213" y="13" width="2" height="1" fill="#000"/><rect x="210" y="14" width="3" height="1" fill="#000"/><rect x="214" y="10" width="1" height="1" fill="#000"/><rect x="215" y="11" width="1" height="1" fill="#000"/><rect x="216" y="12" width="1" height="1" fill="#000"/><rect x="217" y="13" width="2" height="1" fill="#000"/><rect x="219" y="14" width="3" height="1" fill="#000"/><rect x="223" y="4" width="10" height="1" fill="#000"/><rect x="223" y="6" width="10" height="1" fill="#000"/><rect x="223" y="8" width="10" height="1" fill="#000"/><rect x="223" y="4" width="1" height="5" fill="#000"/><rect x="232" y="4" width="1" height="5" fill="#000"/><rect x="225" y="9" width="1" height="1" fill="#000"/><rect x="224" y="10" width="1" height="1" fill="#000"/><rect x="222" y="11" width="2" height="1" fill="#000"/><rect x="224" y="10" width="9" height="1" fill="#000"/><rect x="232" y="10" width="1" height="5" fill="#000"/><rect x="229" y="14" width="3" height="1" fill="#000"/><rect x="225" y="12" width="1" height="1" fill="#000"/><rect x="224" y="13" width="1" height="1" fill="#000"/><rect x="223" y="13" width="1" height="1" fill="#000"/><rect x="229" y="11" width="1" height="1" fill="#000"/><rect x="228" y="12" width="1" height="1" fill="#000"/><rect x="227" y="13" width="1" height="1" fill="#000"/><rect x="226" y="14" width="1" height="1" fill="#000"/><rect x="241" y="0" width="1" height="21" fill="#a0a0a0"/><rect x="242" y="0" width="1" height="21" fill="#ffffff"/><rect x="245" y="1" width="3" height="1" fill="#a8a8a8"/><rect x="245" y="3" width="3" height="1" fill="#a8a8a8"/><rect x="245" y="5" width="3" height="1" fill="#a8a8a8"/><rect x="245" y="7" width="3" height="1" fill="#a8a8a8"/><rect x="245" y="9" width="3" height="1" fill="#a8a8a8"/><rect x="245" y="11" width="3" height="1" fill="#a8a8a8"/><rect x="245" y="13" width="3" height="1" fill="#a8a8a8"/><rect x="245" y="15" width="3" height="1" fill="#a8a8a8"/><rect x="245" y="17" width="3" height="1" fill="#a8a8a8"/><rect x="245" y="19" width="3" height="1" fill="#a8a8a8"/><rect x="259" y="5" width="1" height="14" fill="#505050"/><polygon points="257.5,7 261.5,7 259.5,4.5" fill="#505050" shape-rendering="geometricPrecision"/><rect x="257" y="16" width="12" height="1" fill="#505050"/><polygon points="269,14.5 269,18.5 271.5,16.5" fill="#505050" shape-rendering="geometricPrecision"/><path d="M263.5,13.5 h2 v-8 h2" fill="none" stroke="#10a010" stroke-width="1.2" shape-rendering="geometricPrecision"/><rect x="279" y="0" width="1" height="21" fill="#a0a0a0"/><rect x="280" y="0" width="24" height="21" fill="url(#chk)"/><rect x="287" y="5" width="1" height="14" fill="#505050"/><polygon points="285.5,7 289.5,7 287.5,4.5" fill="#505050" shape-rendering="geometricPrecision"/><rect x="285" y="16" width="12" height="1" fill="#505050"/><polygon points="297,14.5 297,18.5 299.5,16.5" fill="#505050" shape-rendering="geometricPrecision"/><rect x="293" y="3" width="1" height="12" fill="#0a8a1a"/><rect x="291.5" y="5.5" width="4" height="7" fill="#3ae05a" stroke="#0a8a1a" stroke-width="1"/><rect x="315" y="5" width="1" height="14" fill="#505050"/><polygon points="313.5,7 317.5,7 315.5,4.5" fill="#505050" shape-rendering="geometricPrecision"/><rect x="313" y="16" width="12" height="1" fill="#505050"/><polygon points="325,14.5 325,18.5 327.5,16.5" fill="#505050" shape-rendering="geometricPrecision"/><path d="M314,13.5 Q319,6 321,8 Q323,10 325.5,12.3" fill="none" stroke="#20a020" stroke-width="1.1" shape-rendering="geometricPrecision"/><rect x="336" y="0" width="1" height="21" fill="#a0a0a0"/><line x1="354.5" y1="12.5" x2="360" y2="17.8" stroke="#b89818" stroke-width="3" shape-rendering="geometricPrecision"/><line x1="354.5" y1="12.5" x2="360" y2="17.8" stroke="#f0dc70" stroke-width="1.5" shape-rendering="geometricPrecision"/><circle cx="351" cy="8.8" r="5.2" fill="#cfeaff" stroke="#3a80c8" stroke-width="1.2" shape-rendering="geometricPrecision"/><rect x="348" y="8" width="6" height="2" fill="#3a7ac0"/><rect x="350" y="6" width="2" height="6" fill="#3a7ac0"/><line x1="382.5" y1="12.5" x2="388" y2="17.8" stroke="#b89818" stroke-width="3" shape-rendering="geometricPrecision"/><line x1="382.5" y1="12.5" x2="388" y2="17.8" stroke="#f0dc70" stroke-width="1.5" shape-rendering="geometricPrecision"/><circle cx="379" cy="8.8" r="5.2" fill="#cfeaff" stroke="#3a80c8" stroke-width="1.2" shape-rendering="geometricPrecision"/><rect x="376" y="8" width="6" height="2" fill="#3a7ac0"/><rect x="401" y="3" width="8" height="8" fill="#2a9a2a"/><rect x="402" y="6" width="6" height="4" fill="#f4f8f4"/><rect x="402" y="4" width="1" height="1" fill="#e0f0e0"/><rect x="403" y="7" width="4" height="1" fill="#2a9a2a" opacity="0.45"/><rect x="409" y="3" width="8" height="8" fill="#1a5ad8"/><rect x="410" y="6" width="6" height="4" fill="#f4f8f4"/><rect x="410" y="4" width="1" height="1" fill="#e0f0e0"/><rect x="411" y="7" width="4" height="1" fill="#1a5ad8" opacity="0.45"/><rect x="401" y="11" width="8" height="8" fill="#1a5ad8"/><rect x="402" y="14" width="6" height="4" fill="#f4f8f4"/><rect x="402" y="12" width="1" height="1" fill="#e0f0e0"/><rect x="403" y="15" width="4" height="1" fill="#1a5ad8" opacity="0.45"/><rect x="409" y="11" width="8" height="8" fill="#2a9a2a"/><rect x="410" y="14" width="6" height="4" fill="#f4f8f4"/><rect x="410" y="12" width="1" height="1" fill="#e0f0e0"/><rect x="411" y="15" width="4" height="1" fill="#2a9a2a" opacity="0.45"/><rect x="426" y="0" width="1" height="21" fill="#a0a0a0"/><rect x="431" y="0" width="1" height="21" fill="#a0a0a0"/><rect x="432" y="0" width="24" height="21" fill="url(#chk)"/><rect x="440" y="5" width="1" height="14" fill="#505050"/><polygon points="438.5,7 442.5,7 440.5,4.5" fill="#505050" shape-rendering="geometricPrecision"/><rect x="438" y="16" width="12" height="1" fill="#505050"/><polygon points="450,14.5 450,18.5 452.5,16.5" fill="#505050" shape-rendering="geometricPrecision"/><polygon points="444,7 444,14 448.5,10.5" fill="#30d040" stroke="#108a20" stroke-width="0.8" shape-rendering="geometricPrecision"/><rect x="459" y="0" width="1" height="21" fill="#a0a0a0"/><rect x="460" y="0" width="24" height="21" fill="url(#chk)"/><rect x="468" y="5" width="1" height="14" fill="#505050"/><polygon points="466.5,7 470.5,7 468.5,4.5" fill="#505050" shape-rendering="geometricPrecision"/><rect x="466" y="16" width="12" height="1" fill="#505050"/><polygon points="478,14.5 478,18.5 480.5,16.5" fill="#505050" shape-rendering="geometricPrecision"/><rect x="473" y="5" width="1" height="10" fill="#1a70b0"/><polygon points="474.5,10.5 478,8 478,13" fill="#e04010" shape-rendering="geometricPrecision"/><rect x="476" y="10" width="3.5" height="1" fill="#e04010"/><rect x="488" y="0" width="1" height="21" fill="#a0a0a0"/><path d="M498.5,3.5 h8 l3,3 v10 h-11 z" fill="#fff" stroke="#6e6e6e" stroke-width="1"/><path d="M501,6 q0,-1 1,-1 M500.5,8.5 h2 M501.5,5 v8 q0,1 -1,1" fill="none" stroke="#555" stroke-width="0.8" shape-rendering="geometricPrecision"/><path d="M506,9.5 h3 v4 h4 v3 h-4 v4 h-3 v-4 h-4 v-3 h4 z" fill="#19e03a" stroke="#0a8a1a" stroke-width="1" shape-rendering="geometricPrecision"/><polygon points="520,10 525,10 522.5,13" fill="#000" shape-rendering="geometricPrecision"/><circle cx="544" cy="10.8" r="7.8" fill="#1a78e0" stroke="#0a4aa8" stroke-width="0.8" shape-rendering="geometricPrecision"/><circle cx="544" cy="10.8" r="5.4" fill="#f6f8fa" stroke="#0a58b8" stroke-width="0.6" shape-rendering="geometricPrecision"/><polyline points="543.3,6.8 543.6,11 547,11.5" fill="none" stroke="#222" stroke-width="1.1" shape-rendering="geometricPrecision"/><rect x="543.5" y="14.5" width="2" height="1" fill="#9ac0f0"/><polygon points="559,10 564,10 561.5,13" fill="#000" shape-rendering="geometricPrecision"/><rect x="575.5" y="4.5" width="15" height="13" fill="#ffffff" stroke="#2a70c8" stroke-width="1"/><rect x="576" y="5" width="14" height="2" fill="#5a9ae0"/><rect x="576" y="11" width="14" height="1" fill="#2a70c8"/><polyline points="577,10 580,9 583,9.5 586,8 589,8.5" fill="none" stroke="#b02010" stroke-width="1" shape-rendering="geometricPrecision"/><polyline points="577,16 580,15 582,15.5 585,13.5 588,15.5" fill="none" stroke="#10a020" stroke-width="1" shape-rendering="geometricPrecision"/><polygon points="598,10 603,10 600.5,13" fill="#000" shape-rendering="geometricPrecision"/><rect x="609" y="0" width="1" height="23" fill="#909090"/><rect x="613" y="1" width="3" height="1" fill="#a8a8a8"/><rect x="613" y="3" width="3" height="1" fill="#a8a8a8"/><rect x="613" y="5" width="3" height="1" fill="#a8a8a8"/><rect x="613" y="7" width="3" height="1" fill="#a8a8a8"/><rect x="613" y="9" width="3" height="1" fill="#a8a8a8"/><rect x="613" y="11" width="3" height="1" fill="#a8a8a8"/><rect x="613" y="13" width="3" height="1" fill="#a8a8a8"/><rect x="613" y="15" width="3" height="1" fill="#a8a8a8"/><rect x="613" y="17" width="3" height="1" fill="#a8a8a8"/><rect x="613" y="19" width="3" height="1" fill="#a8a8a8"/><rect x="619" y="0" width="1" height="21" fill="#a0a0a0"/><rect x="620" y="0" width="24" height="21" fill="url(#chk)"/><polygon points="627,4 635.5,11.8 631.8,12.2 634,17 632,18 629.8,13.2 627,15.8" fill="#4a4a4a" shape-rendering="geometricPrecision"/><rect x="652" y="11" width="6" height="1" fill="#3c3c3c"/><rect x="661" y="11" width="6" height="1" fill="#3c3c3c"/><rect x="659" y="4" width="1" height="6" fill="#3c3c3c"/><rect x="659" y="13" width="1" height="6" fill="#3c3c3c"/><rect x="659" y="11" width="1" height="1" fill="#3c3c3c"/><rect x="676" y="0" width="1" height="21" fill="#a0a0a0"/><rect x="693" y="5" width="1" height="13" fill="#3c3c3c"/><rect x="716" y="11" width="12" height="1" fill="#3c3c3c"/><line x1="744" y1="17.5" x2="756.5" y2="6" stroke="#3c3c3c" stroke-width="1.1" shape-rendering="geometricPrecision"/><line x1="770" y1="13.0" x2="782" y2="4.0" stroke="#444" stroke-width="1" shape-rendering="geometricPrecision"/><line x1="773.5" y1="14.75" x2="785.5" y2="5.75" stroke="#444" stroke-width="1" shape-rendering="geometricPrecision"/><line x1="772" y1="10" x2="772" y2="14" stroke="#444"/><line x1="775" y1="7" x2="775" y2="12" stroke="#444"/><line x1="778" y1="5" x2="778" y2="10" stroke="#444"/><line x1="781" y1="3" x2="781" y2="8" stroke="#444"/><text x="780.5" y="20" style="font-family:'Liberation Sans',sans-serif;font-size:7px;font-weight:bold;fill:#333">E</text><line x1="799" y1="4.5" x2="812" y2="4.5" stroke="#555" stroke-width="1" stroke-dasharray="1,1"/><line x1="799" y1="7.5" x2="812" y2="7.5" stroke="#555" stroke-width="1" stroke-dasharray="1,1"/><line x1="799" y1="11.5" x2="812" y2="11.5" stroke="#555" stroke-width="1" stroke-dasharray="1,1"/><line x1="799" y1="15.5" x2="808" y2="15.5" stroke="#555" stroke-width="1" stroke-dasharray="1,1"/><text x="808.5" y="20" style="font-family:'Liberation Sans',sans-serif;font-size:7px;font-weight:bold;fill:#333">F</text><text x="829.5" y="16" style="font-family:'Liberation Sans',sans-serif;font-size:11.5px;fill:#444">A</text><rect x="855.5" y="4.5" width="12" height="13" fill="none" stroke="#444" stroke-width="1" stroke-dasharray="1,1"/><rect x="854" y="3" width="2" height="2" fill="#444"/><text x="857.5" y="16" style="font-family:'Liberation Sans',sans-serif;font-size:11px;font-weight:bold;fill:#555">T</text><polygon points="883,8 886,5 889,8 886,10" fill="#444" shape-rendering="geometricPrecision"/><polyline points="885,11 887,13.5 891,9.5" fill="none" stroke="#444" stroke-width="1.4" shape-rendering="geometricPrecision"/><polygon points="891,15 894,12.5 897,15 894,18" fill="#444" shape-rendering="geometricPrecision"/><polygon points="904,10 909,10 906.5,13" fill="#000" shape-rendering="geometricPrecision"/><rect x="915" y="0" width="1" height="23" fill="#909090"/><rect x="919" y="1" width="3" height="1" fill="#a8a8a8"/><rect x="919" y="3" width="3" height="1" fill="#a8a8a8"/><rect x="919" y="5" width="3" height="1" fill="#a8a8a8"/><rect x="919" y="7" width="3" height="1" fill="#a8a8a8"/><rect x="919" y="9" width="3" height="1" fill="#a8a8a8"/><rect x="919" y="11" width="3" height="1" fill="#a8a8a8"/><rect x="919" y="13" width="3" height="1" fill="#a8a8a8"/><rect x="919" y="15" width="3" height="1" fill="#a8a8a8"/><rect x="919" y="17" width="3" height="1" fill="#a8a8a8"/><rect x="919" y="19" width="3" height="1" fill="#a8a8a8"/><text x="930.3" y="15" class="tf" textLength="13" lengthAdjust="spacingAndGlyphs">M1</text><text x="958.5" y="15" class="tf" textLength="13" lengthAdjust="spacingAndGlyphs">M5</text><text x="984.5" y="15" class="tf" textLength="18" lengthAdjust="spacingAndGlyphs">M15</text><text x="1012.4" y="15" class="tf" textLength="18" lengthAdjust="spacingAndGlyphs">M30</text><text x="1043.2" y="15" class="tf" textLength="12.3" lengthAdjust="spacingAndGlyphs">H1</text><rect x="1065" y="0" width="1" height="21" fill="#a0a0a0"/><rect x="1066" y="0" width="24" height="21" fill="url(#chk)"/><text x="1070.4" y="15" class="tf" textLength="12.5" lengthAdjust="spacingAndGlyphs">H4</text><text x="1099.2" y="15" class="tf" textLength="12" lengthAdjust="spacingAndGlyphs">D1</text><text x="1126.8" y="15" class="tf" textLength="14.5" lengthAdjust="spacingAndGlyphs">W1</text><text x="1153.4" y="15" class="tf" textLength="15.2" lengthAdjust="spacingAndGlyphs">MN</text><rect x="1176" y="0" width="1" height="23" fill="#909090"/><circle cx="1647" cy="8.5" r="3.8" fill="none" stroke="#2a6ad0" stroke-width="1.4" shape-rendering="geometricPrecision"/><line x1="1644.3" y1="11.3" x2="1639" y2="16.5" stroke="#2a6ad0" stroke-width="2" shape-rendering="geometricPrecision"/><ellipse cx="1669" cy="13.5" rx="6" ry="4.5" fill="#e8e8e8" stroke="#b8b8b8" stroke-width="0.8" shape-rendering="geometricPrecision"/><polygon points="1664,16 1663,20 1668,17" fill="#d8d8d8" shape-rendering="geometricPrecision"/><circle cx="1677.5" cy="8.3" r="7.8" fill="#e02a20" shape-rendering="geometricPrecision"/><text x="1674.5" y="12.5" style="font-family:'Liberation Sans',sans-serif;font-size:11px;fill:#fff">1</text></svg>
</body></html>
